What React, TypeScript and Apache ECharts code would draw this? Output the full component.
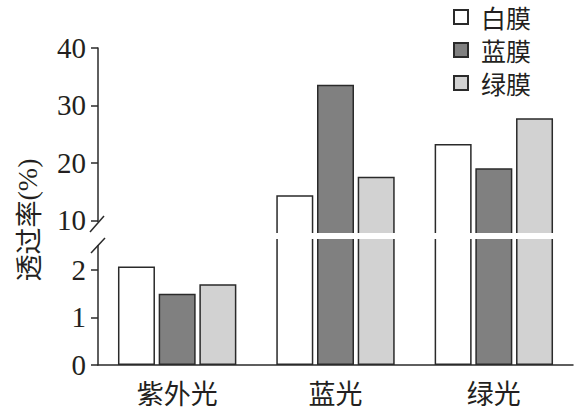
import React, { useEffect, useRef } from "react";
import * as echarts from "echarts";

const categories = ["紫外光", "蓝光", "绿光"];
const seriesNames = ["白膜", "蓝膜", "绿膜"];
const whiteFilm = [2.07, 14.4, 23.3];
const blueFilm = [1.5, 33.6, 19.1];
const greenFilm = [1.7, 17.6, 27.8];
const upperTicks = [10, 20, 30, 40];
const lowerTicks = [0, 1, 2];

const FILLS = ["#ffffff", "#808080", "#d2d2d2"];
const INK = "#231f20";
const BORDER = "#2a2a2a";
const CJK = "'Noto Sans CJK SC', sans-serif";
const SERIF = "'Liberation Serif', 'DejaVu Serif', serif";

const W = 577;
const H = 411;
const LEFT = 98;
const RIGHT = 4;
const UP_TOP = 48;
const UP_BOTTOM = 234;
const LOW_TOP = 238;
const LOW_BOTTOM = 365;

const App: React.FC = () => {
    const ref = useRef<HTMLDivElement | null>(null);

    useEffect(() => {
        if (!ref.current) return;
        const inst = echarts.init(ref.current, undefined, { renderer: "svg" });

        const datas = [whiteFilm, blueFilm, greenFilm];
        const barBase = {
            type: "bar" as const,
            barWidth: 37,
            barGap: "10%",
            clip: true,
        };

        // same bars in both grids, each grid clips its own part
        const series: any[] = [];
        [0, 1].forEach((g) => {
            datas.forEach((d, i) => {
                series.push({
                    ...barBase,
                    name: seriesNames[i],
                    xAxisIndex: g,
                    yAxisIndex: g,
                    data: d,
                    itemStyle: { color: FILLS[i], borderColor: BORDER, borderWidth: 1.5 },
                });
            });
        });

        const yCommon = {
            type: "value" as const,
            splitLine: { show: false },
            axisLine: { show: true, lineStyle: { color: BORDER, width: 1.5 } },
            axisTick: { show: true, length: 7, lineStyle: { color: BORDER, width: 1.5 } },
            axisLabel: { color: INK, fontFamily: SERIF, fontSize: 29, margin: 12 },
        };

        inst.setOption({
            animation: false,
            grid: [
                { left: LEFT, right: RIGHT, top: UP_TOP, bottom: H - UP_BOTTOM },
                { left: LEFT, right: RIGHT, top: LOW_TOP, bottom: H - LOW_BOTTOM },
            ],
            legend: {
                data: seriesNames,
                orient: "vertical",
                left: 453,
                top: 4,
                padding: 0,
                itemWidth: 14,
                itemHeight: 14,
                itemGap: 7,
                icon: "rect",
                textStyle: {
                    color: INK,
                    fontFamily: CJK,
                    fontSize: 25,
                    lineHeight: 26,
                    padding: [0, 0, 0, 8],
                },
            },
            xAxis: [
                {
                    type: "category",
                    gridIndex: 0,
                    data: categories,
                    show: false,
                },
                {
                    type: "category",
                    gridIndex: 1,
                    data: categories,
                    axisLine: { lineStyle: { color: BORDER, width: 1.5 } },
                    axisTick: { show: false },
                    axisLabel: { color: INK, fontFamily: CJK, fontSize: 27, margin: 14 },
                },
            ],
            yAxis: [
                {
                    ...yCommon,
                    gridIndex: 0,
                    min: 7.65,
                    max: 40,
                    axisLabel: { ...yCommon.axisLabel, customValues: upperTicks },
                    axisTick: { ...yCommon.axisTick, customValues: upperTicks },
                },
                {
                    ...yCommon,
                    gridIndex: 1,
                    min: 0,
                    max: 2.67,
                    axisLabel: { ...yCommon.axisLabel, customValues: lowerTicks },
                    axisTick: { ...yCommon.axisTick, customValues: lowerTicks },
                },
            ],
            series,
            graphic: [
                {
                    type: "rect",
                    shape: { x: LEFT + 2, y: UP_BOTTOM - 1, width: W - LEFT, height: LOW_TOP - UP_BOTTOM + 2 },
                    style: { fill: "#ffffff" },
                    z: 100,
                },
                {
                    type: "rect",
                    shape: { x: LEFT - 3, y: 222, width: 6, height: 23 },
                    style: { fill: "#ffffff" },
                    z: 100,
                },
                {
                    type: "line",
                    shape: { x1: LEFT - 8, y1: 232, x2: LEFT + 6, y2: 216 },
                    style: { stroke: BORDER, lineWidth: 1.5 },
                    z: 101,
                },
                {
                    type: "line",
                    shape: { x1: LEFT - 7, y1: 253, x2: LEFT + 7, y2: 238 },
                    style: { stroke: BORDER, lineWidth: 1.5 },
                    z: 101,
                },
                {
                    type: "text",
                    x: 27,
                    y: 220,
                    rotation: Math.PI / 2,
                    style: {
                        text: "{a|透过率}{b|(%)}",
                        align: "center",
                        verticalAlign: "middle",
                        rich: {
                            a: { fontFamily: CJK, fontSize: 27, fill: INK },
                            b: { fontFamily: SERIF, fontSize: 28, fill: INK },
                        },
                    },
                },
            ],
        });

        return () => inst.dispose();
    }, []);

    return (
        <div
            ref={ref}
            style={{ position: "fixed", left: 0, top: 0, width: W, height: H, background: "#fff" }}
        />
    );
};

export default App;
